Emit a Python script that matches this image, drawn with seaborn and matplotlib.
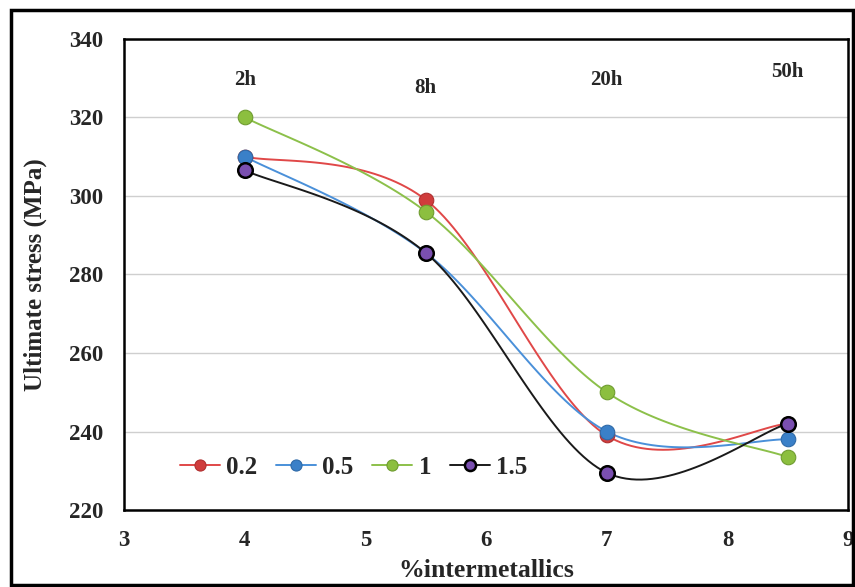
import numpy as np
import pandas as pd
import matplotlib
matplotlib.use("Agg")
import matplotlib.pyplot as plt
import seaborn as sns
from matplotlib.patches import Rectangle

# data
x_vals = [4, 5.5, 7, 8.5]
hours = ["2h", "8h", "20h", "50h"]
hour_y = [329.5, 327.5, 329.5, 331.5]
series_names = ["0.2", "0.5", "1", "1.5"]
s_02 = [310, 299, 239, 242]
s_05 = [310, 285.5, 240, 238]
s_1 = [320, 296, 250, 233.5]
s_15 = [306.5, 285.5, 229.5, 242]

line_colors = ["#e04848", "#4a90d9", "#8cc04a", "#1a1a1a"]
marker_colors = ["#d03c3c", "#3a80c8", "#8cbf3f", "#7a4fb0"]
edge_colors = ["#b03030", "#2f6aa8", "#6f9c30", "#000000"]


def smooth(xs, ys, n=40):
    # Excel-style smoothed line (Catmull-Rom bezier)
    xs = np.asarray(xs, float)
    ys = np.asarray(ys, float)
    px = np.concatenate([[xs[0]], xs, [xs[-1]]])
    py = np.concatenate([[ys[0]], ys, [ys[-1]]])
    out_x, out_y = [], []
    t = np.linspace(0, 1, n)
    for i in range(1, len(px) - 2):
        p0x, p1x, p2x, p3x = px[i - 1], px[i], px[i + 1], px[i + 2]
        p0y, p1y, p2y, p3y = py[i - 1], py[i], py[i + 1], py[i + 2]
        c1x = p1x + (p2x - p0x) / 6
        c1y = p1y + (p2y - p0y) / 6
        c2x = p2x - (p3x - p1x) / 6
        c2y = p2y - (p3y - p1y) / 6
        bx = (1 - t) ** 3 * p1x + 3 * (1 - t) ** 2 * t * c1x + 3 * (1 - t) * t ** 2 * c2x + t ** 3 * p2x
        by = (1 - t) ** 3 * p1y + 3 * (1 - t) ** 2 * t * c1y + 3 * (1 - t) * t ** 2 * c2y + t ** 3 * p2y
        out_x.extend(bx)
        out_y.extend(by)
    return np.array(out_x), np.array(out_y)


sns.set_style("white")
plt.rcParams["font.family"] = ["Liberation Serif", "DejaVu Serif"]
plt.rcParams["font.weight"] = "bold"

fig = plt.figure(figsize=(8.55, 5.87), dpi=100)
ax = fig.add_axes([0.145, 0.131, 0.847, 0.803])

all_series = [s_02, s_05, s_1, s_15]
for name, ys, lc, mc, ec in zip(series_names, all_series, line_colors, marker_colors, edge_colors):
    sx, sy = smooth(x_vals, ys)
    ax.plot(sx, sy, color=lc, lw=1.4, zorder=2)
    df = pd.DataFrame({"x": x_vals, "y": ys})
    lw_edge = 1.8 if name == "1.5" else 0.8
    sns.scatterplot(data=df, x="x", y="y", ax=ax, s=110, color=mc, edgecolor=ec,
                    linewidth=lw_edge, zorder=3, legend=False)
    # legend proxy
    ax.plot([], [], color=lc, lw=1.4, marker="o", markersize=8, markerfacecolor=mc,
            markeredgecolor=ec, markeredgewidth=lw_edge, label=name)

for xv, yv, h in zip(x_vals, hour_y, hours):
    ax.text(xv, yv, h, ha="center", va="center", fontsize=15, fontweight="bold")

ax.set_xlim(3, 9)
ax.set_ylim(220, 340)
ax.set_xticks([3, 4, 5, 6, 7, 8, 9])
ax.set_yticks([220, 240, 260, 280, 300, 320, 340])
ax.yaxis.grid(True, color="#cfcfcf", lw=1)
ax.set_axisbelow(True)
for sp in ax.spines.values():
    sp.set_visible(True)
    sp.set_color("black")
    sp.set_linewidth(1.8)
ax.tick_params(axis="both", length=0, labelsize=16.5)
ax.tick_params(axis="y", pad=15)
ax.tick_params(axis="x", pad=14)
for lab in ax.get_xticklabels() + ax.get_yticklabels():
    lab.set_fontweight("bold")

ax.set_xlabel("%intermetallics", fontsize=18.5, fontweight="bold", labelpad=6)
ax.set_ylabel("Ultimate stress (MPa)", fontsize=18, fontweight="bold", labelpad=16)

ax.legend(loc="center left", bbox_to_anchor=(0.046, 0.091), ncol=4, frameon=False,
          handlelength=1.6, handletextpad=0.25, columnspacing=0.75,
          prop={"weight": "bold", "size": 18})

fig.patches.append(Rectangle((0.013, 0.003), 0.985, 0.98, transform=fig.transFigure,
                             fill=False, edgecolor="black", lw=2.5, zorder=0))

fig.savefig("out.png", dpi=100)
